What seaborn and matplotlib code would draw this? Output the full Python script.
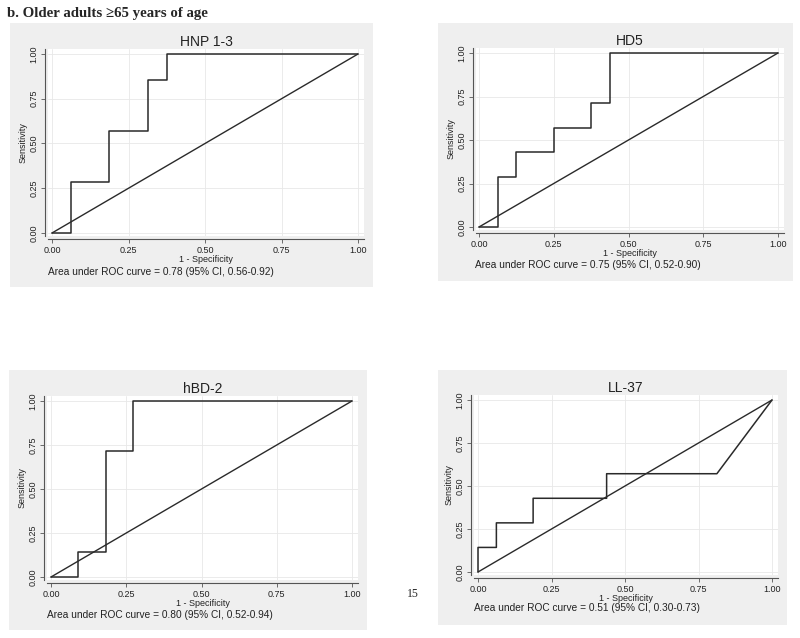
import numpy as np
import pandas as pd
import matplotlib
matplotlib.use("Agg")
import matplotlib.pyplot as plt
from matplotlib.patches import Rectangle
import seaborn as sns

# ---- data ----
titles = ['HNP 1-3', 'HD5', 'hBD-2', 'LL-37']
auc_text = [
    'Area under ROC curve = 0.78 (95% CI, 0.56-0.92)',
    'Area under ROC curve = 0.75 (95% CI, 0.52-0.90)',
    'Area under ROC curve = 0.80 (95% CI, 0.52-0.94)',
    'Area under ROC curve = 0.51 (95% CI, 0.30-0.73)',
]

hnp_fpr = [0, 0.0625, 0.0625, 0.1875, 0.1875, 0.3125, 0.3125, 0.375, 0.375, 1.0]
hnp_tpr = [0, 0, 0.2857, 0.2857, 0.5714, 0.5714, 0.8571, 0.8571, 1.0, 1.0]

hd5_fpr = [0, 0.0625, 0.0625, 0.125, 0.125, 0.25, 0.25, 0.375, 0.375, 0.4375, 0.4375, 1.0]
hd5_tpr = [0, 0, 0.2857, 0.2857, 0.4286, 0.4286, 0.5714, 0.5714, 0.7143, 0.7143, 1.0, 1.0]

hbd_fpr = [0, 0.0909, 0.0909, 0.1818, 0.1818, 0.2727, 0.2727, 1.0]
hbd_tpr = [0, 0, 0.1429, 0.1429, 0.7143, 0.7143, 1.0, 1.0]

ll_fpr = [0, 0, 0.0625, 0.0625, 0.1875, 0.1875, 0.4375, 0.4375, 0.8125, 1.0]
ll_tpr = [0, 0.1429, 0.1429, 0.2857, 0.2857, 0.4286, 0.4286, 0.5714, 0.5714, 1.0]

curves = [(hnp_fpr, hnp_tpr), (hd5_fpr, hd5_tpr), (hbd_fpr, hbd_tpr), (ll_fpr, ll_tpr)]
ticks = [0, 0.25, 0.5, 0.75, 1.0]
tick_labels = ['0.00', '0.25', '0.50', '0.75', '1.00']

# ---- layout in pixels ----
W, H = 800, 638
# gray box (l, t, r, b), axes box (l, t, r, b), data px (x0, x1, y0, y1), text pos
boxes = [
    ((10, 23, 373, 287), (48, 49, 364, 236), (52, 358, 233, 54), (48, 272)),
    ((438, 23, 793, 281), (476, 48, 784, 230), (479, 778, 227, 53), (475, 265)),
    ((9, 370, 367, 630), (47, 396, 358, 580), (51, 352, 577, 401), (47, 615)),
    ((438, 370, 787, 625), (474, 395, 778, 575), (478, 772, 572, 400), (474, 608)),
]

sns.set_style('white')
plt.rcParams['font.family'] = ['Liberation Sans', 'DejaVu Sans']

fig = plt.figure(figsize=(W / 100, H / 100), dpi=100)
fig.patch.set_facecolor('white')

line_col = '#2a2a2a'

for i, (gbox, abox, dpx, tpos) in enumerate(boxes):
    gl, gt, gr, gb = gbox
    fig.patches.append(Rectangle((gl / W, 1 - gb / H), (gr - gl) / W, (gb - gt) / H,
                                 transform=fig.transFigure, facecolor='#efefef',
                                 edgecolor='none', zorder=-10))
    al, at, ar, ab = abox
    ax = fig.add_axes([al / W, 1 - ab / H, (ar - al) / W, (ab - at) / H])
    ax.set_facecolor('white')

    fpr, tpr = curves[i]
    df = pd.DataFrame({'fpr': fpr, 'tpr': tpr})
    diag = pd.DataFrame({'fpr': [0, 1], 'tpr': [0, 1]})
    sns.lineplot(data=df, x='fpr', y='tpr', sort=False, estimator=None,
                 color=line_col, lw=1.1, ax=ax)
    sns.lineplot(data=diag, x='fpr', y='tpr', sort=False, estimator=None,
                 color=line_col, lw=1.0, ax=ax)

    for s in ['top', 'right']:
        ax.spines[s].set_visible(False)
    for s in ['left', 'bottom']:
        ax.spines[s].set_color('#555555')
        ax.spines[s].set_linewidth(0.8)
        ax.spines[s].set_position(('outward', 2))

    x0, x1, y0, y1 = dpx
    ax.set_xlim((al - x0) / (x1 - x0), (ar - x0) / (x1 - x0))
    ax.set_ylim((y0 - ab) / (y0 - y1), (y0 - at) / (y0 - y1))

    ax.set_xticks(ticks)
    ax.set_xticklabels(tick_labels)
    ax.set_yticks(ticks)
    ax.set_yticklabels(tick_labels, rotation=90, va='center')
    ax.grid(True, color='#e8e8e8', lw=0.6)
    ax.tick_params(axis='both', length=3, width=0.6, color='#555555',
                   labelsize=6.5, pad=2, labelcolor='#222222')
    ax.tick_params(bottom=True, left=True)

    ax.set_xlabel('1 - Specificity', fontsize=6.5, labelpad=0, color='#222222')
    ax.set_ylabel('Sensitivity', fontsize=6.5, labelpad=1, color='#222222')
    ax.set_title(titles[i], fontsize=10, pad=2, color='#222222')

    fig.text(tpos[0] / W, 1 - tpos[1] / H, auc_text[i], fontsize=7.3,
             va='center', ha='left', color='#222222')

fig.text(7 / W, 1 - 13 / H, 'b. Older adults \u226565 years of age',
         fontsize=10.7, fontweight='bold', family=['Liberation Serif', 'DejaVu Serif'],
         va='center', ha='left')
fig.text(413 / W, 1 - 594 / H, '15', fontsize=8.5,
         family=['Liberation Serif', 'DejaVu Serif'], va='center', ha='center')

fig.savefig('out.png', dpi=100)
